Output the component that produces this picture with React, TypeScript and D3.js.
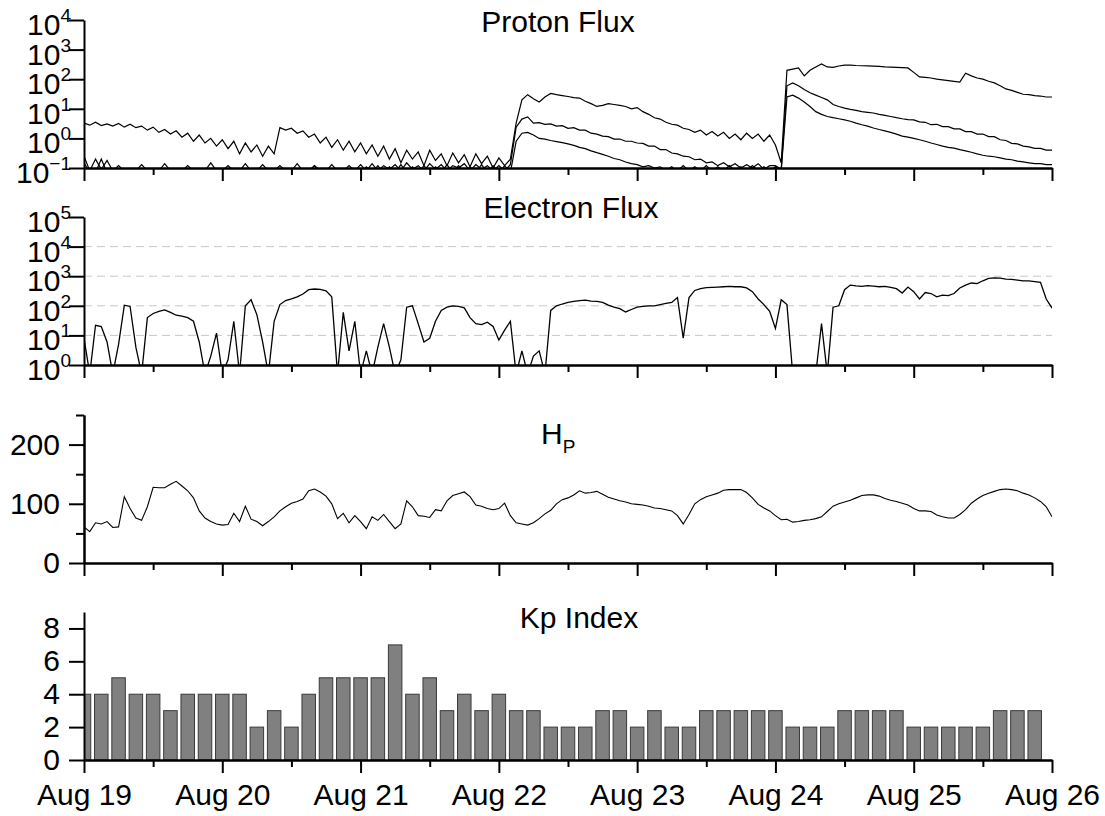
import * as d3 from 'd3';
import { useEffect, useRef } from 'react';

// hourly samples starting Aug 19 00:00 UT (169 values, last one = Aug 26 00:00)
const protonHigh = [
  3.3, 2.8, 3.5, 2.7, 3.1, 2.6, 3.2, 2.4, 3.0, 2.3, 2.6, 1.9, 2.4, 1.6, 2.0, 1.4, 1.8, 1.1, 1.5, 0.8, 1.3, 0.7, 1.0, 0.55,
  0.9, 0.45, 0.8, 0.3, 0.7, 0.35, 0.6, 0.25, 0.55, 0.3, 2.3, 1.9, 2.2, 1.5, 1.8, 1.1, 1.4, 0.7, 1.1, 0.5, 0.9, 0.4, 0.8, 0.35,
  0.7, 0.3, 0.6, 0.25, 0.55, 0.2, 0.45, 0.15, 0.4, 0.2, 0.35, 0.12, 0.4, 0.18, 0.3, 0.12, 0.32, 0.15, 0.28, 0.11, 0.3, 0.14, 0.25, 0.1,
  0.22, 0.12, 0.2, 3.3, 20, 30, 22, 17, 25, 33, 30, 28, 26, 24, 23, 18, 15, 12, 13, 15, 14, 13, 12, 10,
  11, 8, 6.5, 5, 4.5, 3.5, 3.0, 2.8, 2.2, 2.0, 1.6, 1.9, 1.3, 1.7, 1.2, 1.6, 1.0, 1.4, 0.9, 1.5, 1.0, 1.4, 0.8, 1.3,
  0.6, 0.15, 200, 220, 240, 130, 200, 260, 330, 260, 250, 280, 300, 300, 290, 285, 280, 275, 270, 260, 255, 250, 245, 240,
  170, 120, 115, 110, 100, 95, 90, 85, 80, 160, 130, 110, 100, 85, 75, 60, 47, 42, 36, 31, 30, 28, 27, 25,
  25,
];
const protonMid = [
  0.25, 0.08, 0.2, 0.09, 0.18, 0.08, 0.12, 0.08, 0.08, 0.08, 0.13, 0.08, 0.08, 0.08, 0.14, 0.08, 0.08, 0.08, 0.12, 0.08, 0.08, 0.08, 0.15, 0.08,
  0.08, 0.12, 0.08, 0.08, 0.14, 0.08, 0.08, 0.13, 0.08, 0.08, 0.12, 0.08, 0.08, 0.14, 0.08, 0.08, 0.12, 0.08, 0.08, 0.13, 0.08, 0.08, 0.12, 0.08,
  0.13, 0.08, 0.14, 0.08, 0.12, 0.09, 0.13, 0.08, 0.15, 0.09, 0.12, 0.08, 0.14, 0.09, 0.13, 0.08, 0.12, 0.1, 0.14, 0.08, 0.13, 0.09, 0.12, 0.08,
  0.12, 0.08, 0.13, 2.4, 4.5, 5.3, 3.3, 3.4, 3.0, 3.1, 2.6, 2.7, 2.2, 2.3, 1.9, 1.9, 1.5, 1.4, 1.2, 1.15, 0.95, 0.95, 0.8, 0.8,
  0.7, 0.68, 0.55, 0.55, 0.42, 0.42, 0.32, 0.3, 0.25, 0.24, 0.19, 0.2, 0.15, 0.16, 0.12, 0.15, 0.11, 0.14, 0.1, 0.13, 0.1, 0.14, 0.09, 0.12,
  0.12, 0.09, 60, 75, 60, 45, 35, 29, 24, 20, 14, 12, 10.5, 9.5, 8.8, 8, 7.6, 7.2, 6.5, 6, 5.5, 5, 4.6, 4.3,
  4.2, 3.6, 3.5, 2.9, 3.0, 2.5, 2.5, 2.1, 2.1, 1.7, 1.7, 1.4, 1.4, 1.15, 1.15, 0.9, 0.85, 0.68, 0.65, 0.55, 0.52, 0.46, 0.46, 0.4,
  0.4,
];
const protonLow = [
  0.15, 0.07, 0.07, 0.2, 0.07, 0.07, 0.07, 0.07, 0.07, 0.07, 0.07, 0.07, 0.07, 0.07, 0.07, 0.07, 0.07, 0.07, 0.07, 0.07, 0.07, 0.07, 0.07, 0.07,
  0.07, 0.07, 0.07, 0.07, 0.07, 0.07, 0.07, 0.07, 0.07, 0.07, 0.07, 0.07, 0.07, 0.07, 0.07, 0.07, 0.12, 0.07, 0.07, 0.07, 0.07, 0.07, 0.07, 0.07,
  0.07, 0.11, 0.07, 0.12, 0.07, 0.11, 0.07, 0.13, 0.07, 0.11, 0.07, 0.12, 0.07, 0.11, 0.07, 0.13, 0.07, 0.12, 0.07, 0.11, 0.07, 0.13, 0.07, 0.12,
  0.07, 0.12, 0.07, 0.8, 1.5, 1.6, 1.3, 1.0, 0.95, 0.85, 0.78, 0.72, 0.65, 0.58, 0.5, 0.45, 0.38, 0.33, 0.29, 0.25, 0.21, 0.19, 0.16, 0.14,
  0.13, 0.11, 0.12, 0.1, 0.11, 0.08, 0.11, 0.08, 0.12, 0.08, 0.11, 0.08, 0.12, 0.08, 0.11, 0.08, 0.12, 0.08, 0.11, 0.08, 0.12, 0.08, 0.11, 0.08,
  0.11, 0.08, 25, 29, 23, 17, 12, 8, 6.5, 5.5, 5, 4.6, 4.2, 3.8, 3.3, 2.9, 2.6, 2.25, 2.0, 1.8, 1.6, 1.4, 1.2, 1.1,
  1.0, 0.9, 0.8, 0.7, 0.62, 0.55, 0.5, 0.47, 0.42, 0.38, 0.34, 0.3, 0.27, 0.25, 0.24, 0.22, 0.2, 0.19, 0.17, 0.16, 0.15, 0.14, 0.14, 0.13,
  0.13,
];
const electron = [
  8, 0.5, 22, 20, 6, 0.5, 5, 105, 95, 4, 0.5, 40, 55, 65, 73, 60, 48, 45, 40, 30, 6, 0.5, 2, 12,
  0.5, 1.5, 30, 0.5, 100, 160, 50, 6, 0.5, 30, 110, 150, 170, 200, 250, 350, 370, 360, 320, 200, 0.5, 60, 3, 30,
  0.5, 3, 0.5, 4, 25, 4, 0.5, 1.5, 90, 100, 25, 6, 8, 30, 70, 90, 100, 95, 85, 40, 25, 23, 28, 20,
  7, 15, 30, 0.5, 3, 0.5, 2, 3, 0.5, 70, 100, 115, 130, 140, 150, 155, 145, 140, 130, 105, 90, 80, 62, 75,
  90, 95, 100, 100, 110, 120, 130, 190, 8, 190, 330, 380, 410, 420, 430, 440, 450, 440, 440, 400, 300, 170, 110, 65,
  17, 160, 110, 0.5, 0.5, 0.5, 0.5, 0.5, 25, 0.5, 90, 100, 350, 500, 470, 450, 480, 460, 440, 450, 420, 380, 270, 430,
  300, 170, 280, 260, 200, 230, 220, 260, 400, 500, 590, 560, 700, 850, 880, 860, 800, 780, 740, 700, 690, 660, 620, 170,
  84,
];
const hp = [
  61, 53, 68, 66, 70, 60, 61, 112, 92, 76, 72, 95, 128, 127, 127, 133, 138, 130, 122, 110, 88, 76, 70, 66,
  64, 65, 84, 70, 96, 74, 70, 63, 70, 78, 88, 95, 101, 104, 108, 122, 125, 120, 113, 100, 75, 84, 68, 80,
  70, 58, 78, 72, 82, 70, 58, 66, 105, 95, 80, 79, 77, 90, 88, 105, 114, 117, 120, 112, 98, 96, 92, 90,
  92, 101, 80, 68, 66, 64, 68, 75, 83, 89, 100, 107, 110, 115, 122, 118, 119, 121, 116, 111, 108, 105, 103, 100,
  99, 98, 96, 93, 92, 90, 88, 80, 66, 82, 100, 107, 112, 115, 118, 123, 124, 124, 124, 119, 110, 99, 93, 88,
  80, 73, 74, 69, 70, 72, 73, 75, 78, 87, 96, 100, 103, 106, 110, 114, 115, 115, 113, 109, 106, 104, 101, 98,
  92, 88, 88, 87, 81, 78, 76, 76, 82, 90, 101, 108, 114, 118, 121, 124, 125, 124, 122, 118, 115, 110, 104, 95,
  78,
];
// 3-hourly Kp
const kp = [
  4, 4, 5, 4, 4, 3, 4, 4,
  4, 4, 2, 3, 2, 4, 5, 5,
  5, 5, 7, 4, 5, 3, 4, 3,
  4, 3, 3, 2, 2, 2, 3, 3,
  2, 3, 2, 2, 3, 3, 3, 3,
  3, 2, 2, 2, 3, 3, 3, 3,
  2, 2, 2, 2, 2, 3, 3, 3,
];

const dayLabels = ['Aug 19', 'Aug 20', 'Aug 21', 'Aug 22', 'Aug 23', 'Aug 24', 'Aug 25', 'Aug 26'];
const protonExps = [-1, 0, 1, 2, 3, 4];
const electronExps = [0, 1, 2, 3, 4, 5];
const electronGrid = [1, 2, 3, 4];
const hpTicks = [0, 100, 200];
const hpMinor = [50, 150, 250];
const kpTicks = [0, 2, 4, 6, 8];

const START = Date.UTC(2023, 7, 19);
const HOUR = 3600e3;
const FONT = "'Liberation Sans', Arial, Helvetica, sans-serif";
const FS = 30;

export default function App() {
  const ref = useRef<SVGSVGElement>(null);

  useEffect(() => {
    const svg = d3.select(ref.current);
    svg.selectAll('*').remove();

    const X0 = 84, X1 = 1052, PH = 148;
    const bottoms = [168, 365, 563, 760];

    const x = d3.scaleUtc()
      .domain([new Date(START), new Date(START + 168 * HOUR)])
      .range([X0, X1]);
    const t = (h: number) => new Date(START + h * HOUR);
    const days = d3.range(8).map(d => t(d * 24));
    const halfDays = d3.range(7).map(d => t(d * 24 + 12));

    const frame = (g: any, y: any, bottom: number, yMajor: number[], yMinor: number[], labels: boolean) => {
      const ax = g.append('g');
      ax.append('g')
        .attr('transform', `translate(0,${bottom})`)
        .call(d3.axisBottom(x).tickValues(halfDays).tickSize(7).tickSizeOuter(0).tickFormat(() => ''));
      const xa = ax.append('g')
        .attr('transform', `translate(0,${bottom})`)
        .call(d3.axisBottom(x).tickValues(days).tickSize(13).tickSizeOuter(0)
          .tickFormat((_d: any, i: number) => (labels ? dayLabels[i] : '')));
      xa.selectAll('text').attr('font-size', FS).attr('font-family', FONT).attr('fill', '#000').attr('dy', 0).attr('y', 45);
      if (yMinor.length) {
        ax.append('g')
          .attr('transform', `translate(${X0},0)`)
          .call(d3.axisLeft(y).tickValues(yMinor).tickSize(8).tickSizeOuter(0).tickFormat(() => ''));
      }
      ax.append('g')
        .attr('transform', `translate(${X0},0)`)
        .call(d3.axisLeft(y).tickValues(yMajor).tickSize(15).tickSizeOuter(0).tickFormat(() => ''));
      ax.selectAll('path.domain, line').attr('stroke', '#000').attr('stroke-width', 2);
    };

    const clip = (id: string, bottom: number) => {
      svg.append('clipPath').attr('id', id)
        .append('rect').attr('x', X0).attr('y', bottom - PH - 2).attr('width', X1 - X0).attr('height', PH + 2);
      return `url(#${id})`;
    };

    const title = (txt: string, cx: number, base: number) =>
      svg.append('text').attr('x', cx).attr('y', base).attr('text-anchor', 'middle')
        .attr('font-family', FONT).attr('font-size', FS).text(txt);

    // "10" with the exponent as a superscript, right-aligned against the tick
    const logLabels = (g: any, y: any, exps: number[]) => {
      exps.forEach(e => {
        const tx = g.append('text').attr('x', 71).attr('y', y(Math.pow(10, e)) + 15)
          .attr('text-anchor', 'end').attr('font-family', FONT).attr('font-size', FS);
        tx.append('tspan').text('10');
        tx.append('tspan').attr('dy', -13).attr('font-size', 19).text(e < 0 ? '\u2212' + Math.abs(e) : String(e));
      });
    };
    const linLabels = (g: any, y: any, vals: number[]) => {
      vals.forEach(v => {
        g.append('text').attr('x', 60).attr('y', y(v) + 10).attr('text-anchor', 'end')
          .attr('font-family', FONT).attr('font-size', FS).text(v);
      });
    };

    // ---- Proton flux
    {
      const b = bottoms[0];
      const y = d3.scaleLog().domain([0.1, 1e4]).range([b, b - PH]);
      const g = svg.append('g');
      const line = d3.line<number>().x((_d, i) => x(t(i))).y(d => y(d));
      const cp = clip('cp0', b);
      [protonLow, protonMid, protonHigh].forEach(s => {
        g.append('path').attr('d', line(s)).attr('fill', 'none').attr('stroke', '#000')
          .attr('stroke-width', 1.2).attr('clip-path', cp);
      });
      frame(g, y, b, protonExps.map(e => Math.pow(10, e)), [], false);
      logLabels(g, y, protonExps);
      title('Proton Flux', 558, 32);
    }

    // ---- Electron flux
    {
      const b = bottoms[1];
      const y = d3.scaleLog().domain([1, 1e5]).range([b, b - PH]);
      const g = svg.append('g');
      electronGrid.forEach(e => {
        g.append('line').attr('x1', X0).attr('x2', X1).attr('y1', y(Math.pow(10, e))).attr('y2', y(Math.pow(10, e)))
          .attr('stroke', '#c8c8c8').attr('stroke-width', 1).attr('stroke-dasharray', '8,5');
      });
      const line = d3.line<number>().x((_d, i) => x(t(i))).y(d => y(d));
      g.append('path').attr('d', line(electron)).attr('fill', 'none').attr('stroke', '#000')
        .attr('stroke-width', 1.3).attr('clip-path', clip('cp1', b));
      frame(g, y, b, electronExps.map(e => Math.pow(10, e)), [], false);
      logLabels(g, y, electronExps);
      title('Electron Flux', 571, 218);
    }

    // ---- Hp
    {
      const b = bottoms[2];
      const y = d3.scaleLinear().domain([0, 250]).range([b, b - PH]);
      const g = svg.append('g');
      const line = d3.line<number>().x((_d, i) => x(t(i))).y(d => y(d));
      g.append('path').attr('d', line(hp)).attr('fill', 'none').attr('stroke', '#000')
        .attr('stroke-width', 1.1).attr('clip-path', clip('cp2', b));
      frame(g, y, b, hpTicks, hpMinor, false);
      linLabels(g, y, hpTicks);
      const tx = svg.append('text').attr('x', 541).attr('y', 444).attr('font-family', FONT).attr('font-size', FS);
      tx.append('tspan').text('H');
      tx.append('tspan').attr('dy', 9).attr('font-size', 19).text('P');
    }

    // ---- Kp index
    {
      const b = bottoms[3];
      const y = d3.scaleLinear().domain([0, 9]).range([b, b - PH]);
      const g = svg.append('g');
      const bw = 13.5;
      g.append('g').attr('clip-path', clip('cp3', b + 2))
        .selectAll('rect').data(kp).enter().append('rect')
        .attr('x', (_d, i) => x(t(i * 3)) - bw / 2)
        .attr('y', d => y(d))
        .attr('width', bw)
        .attr('height', d => b - y(d))
        .attr('fill', '#808080')
        .attr('stroke', '#3a3a3a')
        .attr('stroke-width', 1);
      frame(g, y, b, kpTicks, [], true);
      linLabels(g, y, kpTicks);
      title('Kp Index', 579, 628);
    }
  }, []);

  return (
    <svg
      ref={ref}
      width={1105}
      height={816}
      style={{ position: 'absolute', left: 0, top: 0, background: '#fff' }}
    />
  );
}
